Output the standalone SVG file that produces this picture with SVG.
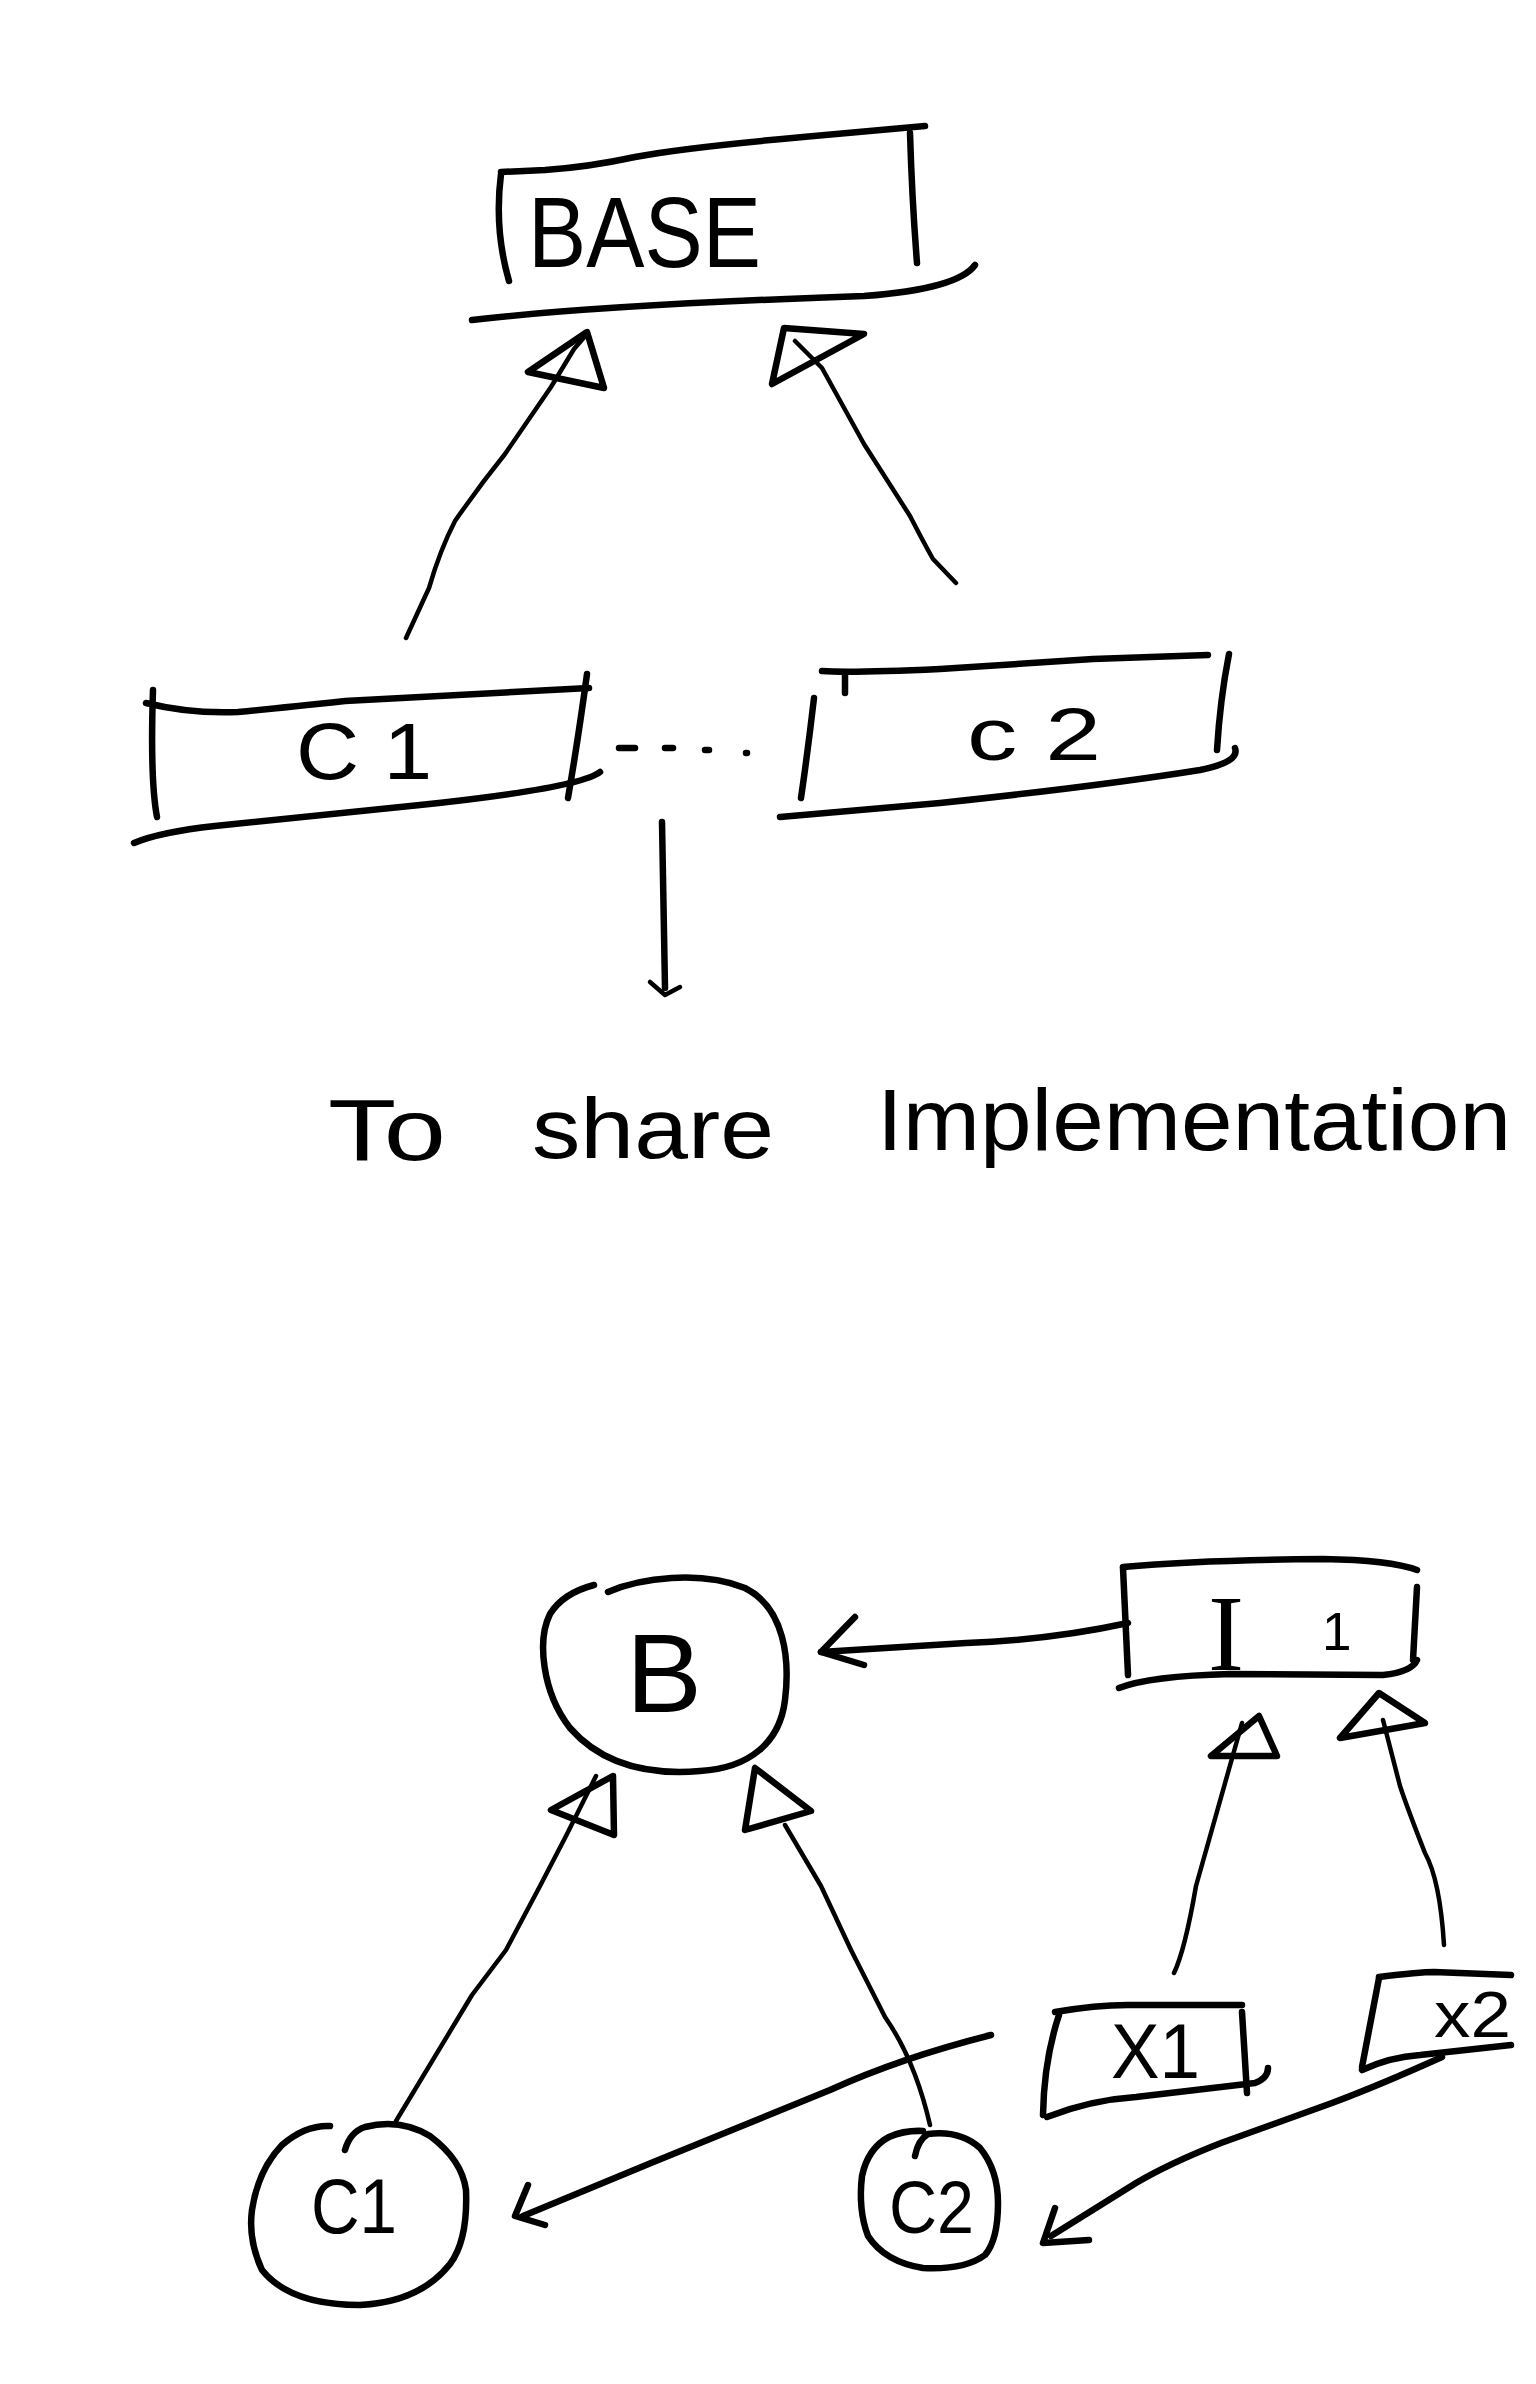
<svg xmlns="http://www.w3.org/2000/svg" width="1536" height="2384" viewBox="0 0 1536 2384">
<style>
.s{fill:none;stroke:#000;stroke-linecap:round;stroke-linejoin:round}
.b{stroke-width:6.5}
.c{stroke-width:4.5}
.t{font-family:"Liberation Sans",Arial,sans-serif;fill:#000}
</style>
<rect width="1536" height="2384" fill="#fff"/>

<g id="base">
  <path class="s b" d="M501,172 L545,170 Q589,167 635,157 Q681,148 803,137 L925,126"/>
  <path class="s b" d="M501,174 Q494,229 509,281"/>
  <path class="s b" d="M910,133 Q912,200 917,263"/>
  <path class="s b" d="M472,320 Q600,305 864,296 Q958,289 975,265"/>
  <text class="t" x="528" y="267" font-size="100" textLength="233" lengthAdjust="spacingAndGlyphs">BASE</text>
</g>

<g id="c1box">
  <path class="s b" d="M146,703 Q190,714 238,712 Q280,708 345,701 L589,688"/>
  <path class="s b" d="M153,690 Q150,780 157,817"/>
  <path class="s b" d="M587,674 Q578,740 568,798"/>
  <path class="s b" d="M134,843 Q160,832 215,826 L420,805 Q580,788 600,772"/>
  <text class="t" x="296" y="779" font-size="80" textLength="136" lengthAdjust="spacingAndGlyphs">C 1</text>
</g>

<g id="c2box">
  <path class="s b" d="M822,671 Q850,673 940,669 L1093,659 L1208,655"/>
  <path class="s b" d="M845,674 L845,693"/>
  <path class="s b" d="M814,698 Q808,750 801,798"/>
  <path class="s b" d="M1229,654 Q1220,700 1217,750"/>
  <path class="s b" d="M780,817 L940,803 Q1100,786 1200,770 Q1240,762 1235,748"/>
  <text class="t" x="967" y="760" font-size="74" textLength="134" lengthAdjust="spacingAndGlyphs">c 2</text>
</g>

<g id="note">
  <text class="t" x="328" y="1160" font-size="88" textLength="118" lengthAdjust="spacingAndGlyphs">To</text>
  <text class="t" x="532" y="1158" font-size="85" textLength="242" lengthAdjust="spacingAndGlyphs">share</text>
  <text class="t" x="877" y="1150" font-size="88" textLength="634" lengthAdjust="spacingAndGlyphs">Implementation</text>
</g>

<g id="B">
  <path class="s b" d="M608,1592 C640,1578 700,1570 745,1588 C785,1608 790,1660 785,1700 C780,1742 750,1768 700,1771 C640,1776 598,1760 570,1728 C542,1692 537,1640 550,1614 C560,1598 575,1590 594,1585"/>
  <text class="t" x="626" y="1712" font-size="112" textLength="76" lengthAdjust="spacingAndGlyphs">B</text>
</g>

<g id="I1">
  <path class="s b" d="M1123,1567 Q1200,1560 1323,1559 Q1390,1560 1417,1570"/>
  <path class="s b" d="M1123,1568 L1128,1675"/>
  <path class="s b" d="M1417,1587 L1413,1660"/>
  <path class="s b" d="M1119,1688 Q1150,1676 1230,1674 L1383,1675 Q1412,1672 1417,1660"/>
  <text class="t" x="1208" y="1670" font-size="108" style="font-family:'Liberation Serif',serif">I <tspan class="t" x="1322" y="1650" font-size="53" style="font-family:'Liberation Sans',sans-serif">1</tspan></text>
</g>

<g id="C1">
  <path class="s b" d="M345,2150 Q350,2132 365,2127 Q400,2118 430,2136 Q462,2160 466,2190 Q468,2240 450,2264 Q420,2302 360,2305 Q290,2305 262,2270 Q248,2240 252,2210 Q258,2170 282,2145 Q305,2125 330,2126"/>
  <text class="t" x="311" y="2233" font-size="78" textLength="86" lengthAdjust="spacingAndGlyphs">C1</text>
</g>

<g id="C2">
  <path class="s b" d="M915,2156 Q918,2140 928,2134 Q960,2130 980,2148 Q998,2170 998,2203 Q998,2240 985,2255 Q965,2270 923,2268 Q885,2262 868,2236 Q858,2210 862,2176 Q868,2148 889,2137 Q905,2130 923,2131"/>
  <text class="t" x="889" y="2233" font-size="74" textLength="85" lengthAdjust="spacingAndGlyphs">C2</text>
</g>

<g id="X1">
  <path class="s b" d="M1055,2012 Q1100,2004 1136,2005 L1242,2005"/>
  <path class="s b" d="M1059,2015 Q1044,2060 1043,2115"/>
  <path class="s b" d="M1242,2012 L1247,2093"/>
  <path class="s b" d="M1047,2117 Q1090,2100 1136,2097 L1255,2083 Q1268,2078 1268,2068"/>
  <text class="t" x="1111" y="2078" font-size="78" textLength="89" lengthAdjust="spacingAndGlyphs">X1</text>
</g>

<g id="X2">
  <path class="s b" d="M1379,1977 Q1420,1972 1434,1972 L1511,1975"/>
  <path class="s b" d="M1379,1978 L1362,2067"/>
  <path class="s b" d="M1362,2070 Q1390,2057 1420,2055 L1511,2045"/>
  <text class="t" x="1434" y="2037" font-size="64" textLength="77" lengthAdjust="spacingAndGlyphs">x2</text>
</g>

<g id="connectors">
  <path class="s c" d="M406,638 L429,588 Q440,550 455,521 Q480,485 505,454 L551,387 L574,349 L587,334"/>
  <path class="s b" d="M587,332 L528,372 L604,388 Z"/>
  <path class="s c" d="M795,341 L822,368 L864,444 L910,516 Q925,545 933,559 L956,583"/>
  <path class="s b" d="M784,328 L864,334 L772,384 Z"/>
  <path class="s b" d="M619,748 L635,748 M665,748 L673,748 M705,750 L709,750 M746,753 L747,753"/>
  <path class="s b" d="M662,822 L665,988"/>
  <path class="s c" d="M650,982 L665,995 L680,987"/>
  <path class="s b" d="M1128,1623 Q1050,1640 966,1643 L821,1652"/>
  <path class="s b" d="M855,1617 L821,1652 L864,1665"/>
  <path class="s c" d="M396,2121 Q430,2065 472,1995 L506,1950 L540,1886 L566,1836 L596,1776"/>
  <path class="s b" d="M613,1776 L551,1810 L614,1835 Z"/>
  <path class="s c" d="M930,2125 Q915,2060 885,2017 L851,1950 L821,1886 L785,1825"/>
  <path class="s b" d="M755,1768 L745,1830 L811,1811 Z"/>
  <path class="s c" d="M1174,1973 Q1185,1950 1196,1886 L1242,1723"/>
  <path class="s b" d="M1259,1716 L1211,1756 L1277,1756 Z"/>
  <path class="s c" d="M1444,1945 Q1440,1880 1425,1853 Q1408,1810 1400,1786 L1383,1720"/>
  <path class="s b" d="M1379,1693 L1340,1738 L1425,1723 Z"/>
  <path class="s b" d="M991,2035 Q900,2058 830,2090 L651,2163 L523,2216"/>
  <path class="s b" d="M528,2185 L515,2216 L545,2225"/>
  <path class="s b" d="M1442,2057 Q1380,2085 1332,2103 L1221,2143 Q1170,2163 1136,2183 L1051,2236"/>
  <path class="s b" d="M1055,2208 L1043,2243 L1089,2240"/>
</g>
</svg>
